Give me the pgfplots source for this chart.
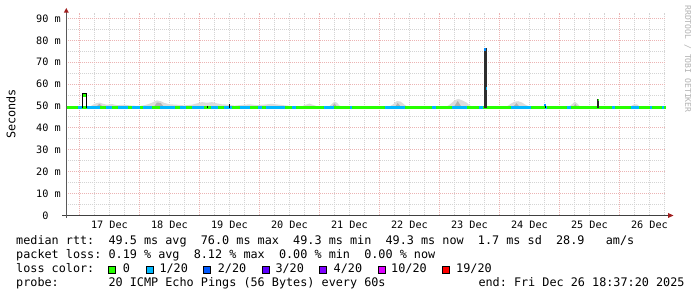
\documentclass[border=0pt]{standalone}
\usepackage{fontspec}
\setmainfont{DejaVu Sans Mono}
\setmonofont{DejaVu Sans Mono}
\usepackage{pgfplots}
\pgfplotsset{compat=1.18}
\definecolor{loss0}{HTML}{26FF00}
\definecolor{loss1}{HTML}{00B8FF}
\definecolor{loss2}{HTML}{0059FF}
\definecolor{loss3}{HTML}{5E00FF}
\definecolor{loss4}{HTML}{7E00FF}
\definecolor{loss10}{HTML}{DD00FF}
\definecolor{loss19}{HTML}{FF0000}
\definecolor{mgrid}{RGB}{236,180,180}
\definecolor{mingrid}{RGB}{212,212,212}
\definecolor{smokeL}{RGB}{220,220,220}
\definecolor{smokeD}{RGB}{178,178,178}
\definecolor{arrowc}{RGB}{160,30,30}
\newcommand{\legfont}{\frenchspacing\ttfamily\fontsize{11.8}{14}\selectfont}
\begin{document}
\begin{tikzpicture}[x=1pt,y=1pt]
\useasboundingbox (0,0) rectangle (697,297);
\fill[white] (0,0) rectangle (697,297);
\begin{axis}[
  at={(66pt,81.5pt)}, anchor=south west,
  scale only axis, width=600pt, height=202.5pt,
  xmin=-5.38, xmax=234.62, ymin=0, ymax=92.5,
  axis line style={draw=none},
  major tick length=0pt, minor tick length=0pt,
  xtick={0,24,...,216}, xticklabels={},
  minor xtick={6,12,18,30,36,42,54,60,66,78,84,90,102,108,114,126,132,138,150,156,162,174,180,186,198,204,210,222,228,234},
  extra x ticks={12,36,60,84,108,132,156,180,204,228},
  extra x tick labels={17 Dec,18 Dec,19 Dec,20 Dec,21 Dec,22 Dec,23 Dec,24 Dec,25 Dec,26 Dec},
  extra x tick style={grid=none, major tick length=0pt},
  ytick={0,10,...,90},
  yticklabels={0\phantom{xx},10 m,20 m,30 m,40 m,50 m,60 m,70 m,80 m,90 m},
  minor ytick={5,15,...,85},
  grid=both,
  major grid style={draw=mgrid, line width=1pt, dash pattern=on 1pt off 1pt},
  minor grid style={draw=mingrid, line width=1pt, dash pattern=on 1pt off 1pt},
  tick label style={font=\frenchspacing\ttfamily\fontsize{10.2}{12}\selectfont, text=black},
  yticklabel style={anchor=east, inner sep=0pt, xshift=-5pt},
  xticklabel style={anchor=base, inner sep=0pt, yshift=-13pt},
]
% smoke (light)
\addplot[fill=smokeL, draw=none] coordinates {
(-5.38,49)(4,49)(5,50.4)(6.5,51.2)(8,51.6)(9.5,51.0)(11,50.6)(13,50.9)(15,50.4)(18,50.6)(21,50.2)(24,50.0)(26,50.4)(28,51.0)(29.5,51.8)(31,52.6)(32.5,52.2)(34,51.4)(36,50.8)(39,50.6)(42,50.3)(45,50.6)(47,51.2)(49,51.8)(51,51.5)(53,51.8)(55,51.2)(57,50.8)(60,50.6)(62,50.2)(65,50.5)(68,50.8)(71,50.4)(74,50.7)(77,51.0)(80,50.6)(83,50.2)(86,49.8)(89,49.9)(90.5,50.6)(92,51.1)(93.5,50.5)(95,49.9)(100,49.9)(101,51.0)(102,52.0)(103,51.5)(104,50.2)(105,49.8)(124,49.8)(125.5,50.8)(127,52.3)(128.5,52.0)(130,50.6)(131,49.8)(147,49.8)(148.5,51.0)(150,52.5)(151.5,53.3)(153,52.6)(155,51.5)(156,50.3)(157,49.8)(171,49.8)(172.5,51.0)(174,52.0)(175.5,52.2)(177,51.6)(178.5,50.5)(180,49.8)(196,49.8)(197.2,51.0)(198.2,52.0)(199.2,51.0)(200.2,49.8)(220.5,49.8)(221.5,50.6)(223,50.8)(224,49.8)(234.62,49.8)(234.62,49)} -- cycle;
% smoke (dark cores)
\addplot[fill=smokeD, draw=none] coordinates {(30,50)(31,51.6)(32.5,51.4)(33.5,50)} -- cycle;
\addplot[fill=smokeD, draw=none] coordinates {(7,50)(8,51)(9,50)} -- cycle;
\addplot[fill=smokeD, draw=none] coordinates {(101.3,50)(102,51.2)(102.8,50)} -- cycle;
\addplot[fill=smokeD, draw=none] coordinates {(126.5,50)(127.3,51.4)(128.3,50)} -- cycle;
\addplot[fill=smokeD, draw=none] coordinates {(150,50)(151.3,52.3)(152.6,50)} -- cycle;
\addplot[fill=smokeD, draw=none] coordinates {(173.8,50)(174.8,51.3)(175.8,50)} -- cycle;
\addplot[fill=smokeD, draw=none] coordinates {(197.8,50)(198.3,51)(198.9,50)} -- cycle;
% median line, 0 loss
\addplot[loss0, line width=3pt, line cap=butt] coordinates {(-5.38,49.3)(234.62,49.3)};
% median line, 1/20 loss
\addplot[loss1, line width=3pt, line cap=butt, unbounded coords=jump] coordinates {
(-0.6,49.3)(1.0,49.3)(1.0,nan)
(3.0,49.3)(8.2,49.3)(8.2,nan)
(10.6,49.3)(13.0,49.3)(13.0,nan)
(15.4,49.3)(19.4,49.3)(19.4,nan)
(21.0,49.3)(24.2,49.3)(24.2,nan)
(25.4,49.3)(29.0,49.3)(29.0,nan)
(32.2,49.3)(38.2,49.3)(38.2,nan)
(40.2,49.3)(42.6,49.3)(42.6,nan)
(45.0,49.3)(49.8,49.3)(49.8,nan)
(52.6,49.3)(55.4,49.3)(55.4,nan)
(57.8,49.3)(61.0,49.3)(61.0,nan)
(64.2,49.3)(68.2,49.3)(68.2,nan)
(71.4,49.3)(73.0,49.3)(73.0,nan)
(74.6,49.3)(82.2,49.3)(82.2,nan)
(85.0,49.3)(86.6,49.3)(86.6,nan)
(97.8,49.3)(101.8,49.3)(101.8,nan)
(108.2,49.3)(109.0,49.3)(109.0,nan)
(122.2,49.3)(130.2,49.3)(130.2,nan)
(141.0,49.3)(142.6,49.3)(142.6,nan)
(149.0,49.3)(155.0,49.3)(155.0,nan)
(159.8,49.3)(161.4,49.3)(161.4,nan)
(172.6,49.3)(180.6,49.3)(180.6,nan)
(186.2,49.3)(187.0,49.3)(187.0,nan)
(195.0,49.3)(196.6,49.3)(196.6,nan)
(213.0,49.3)(214.2,49.3)(214.2,nan)
(220.6,49.3)(223.8,49.3)(223.8,nan)
(228.2,49.3)(229.0,49.3)(229.0,nan)
(233.0,49.3)(233.8,49.3)};
% spike 17 Dec
\addplot[black, line width=1pt] coordinates {(1.4,49.3)(1.4,55.6)(3.0,55.6)(3.0,49.3)};
\addplot[loss0, line width=3pt, line cap=butt] coordinates {(1.6,55.0)(2.8,55.0)};
% small marks
\addplot[black, line width=1pt] coordinates {(51.4,49.0)(51.4,50.0)};
\addplot[black, line width=1pt] coordinates {(60.2,48.9)(60.2,50.8)};
% big spike 23 Dec
\addplot[fill=black!82, draw=none] coordinates {(161.8,49)(161.8,76.3)(163.0,76.3)(163.0,49)} -- cycle;
\addplot[fill=loss1!55!loss2, draw=none] coordinates {(161.8,75.3)(161.8,76.4)(162.6,76.4)(162.6,75.3)} -- cycle;
\addplot[fill=loss1, draw=none] coordinates {(162.7,57.3)(162.7,58.7)(163.2,58.7)(163.2,57.3)} -- cycle;
% small 24 Dec
\addplot[black, line width=1pt] coordinates {(186.6,49.3)(186.6,51.0)};
\addplot[fill=loss1!60!loss2, draw=none] coordinates {(186.0,50.2)(186.0,51.1)(186.5,51.1)(186.5,50.2)} -- cycle;
% spike 25 Dec
\addplot[fill=black!85, draw=none] coordinates {(206.9,49)(206.9,53.4)(207.7,53.4)(207.7,49)} -- cycle;
\addplot[fill=loss0, draw=none] coordinates {(207.3,52.2)(207.3,53.4)(207.7,53.4)(207.7,52.2)} -- cycle;
\end{axis}
% axes
\draw[black!75, line width=1pt] (62,81.5) -- (668,81.5);
\fill[arrowc] (668,79) -- (673.5,81.5) -- (668,84) -- cycle;
\draw[black!65, line width=1pt] (66.3,79) -- (66.3,284.5);
\fill[arrowc] (63.8,284.3) -- (66.3,289) -- (68.8,284.3) -- cycle;
% labels
\node[rotate=90, anchor=base, inner sep=0pt, font=\legfont] at (15.5,183) {Seconds};
\node[rotate=-90, anchor=base, inner sep=0pt, text=black!30, font=\frenchspacing\ttfamily\fontsize{8.1}{10}\selectfont] at (685,238) {RRDTOOL / TOBI OETIKER};
% legend
\node[anchor=base west, inner sep=0pt, font=\legfont] at (16,52) {median rtt:~~49.5 ms avg~~76.0 ms max~~49.3 ms min~~49.3 ms now~~1.7 ms sd~~28.9~~~am/s};
\node[anchor=base west, inner sep=0pt, font=\legfont] at (16,38) {packet loss: 0.19 \% avg~~8.12 \% max~~0.00 \% min~~0.00 \% now};
\node[anchor=base west, inner sep=0pt, font=\legfont] at (16,24.3) {loss color:};
\draw[fill=loss0, line width=0.8pt] (108.7,23.5) rectangle (115.7,30.7);
\node[anchor=base west, inner sep=0pt, font=\legfont] at (122.6,24.3) {0};
\draw[fill=loss1, line width=0.8pt] (146.1,23.5) rectangle (153.1,30.7);
\node[anchor=base west, inner sep=0pt, font=\legfont] at (159.3,24.3) {1/20};
\draw[fill=loss2, line width=0.8pt] (203.7,23.5) rectangle (210.7,30.7);
\node[anchor=base west, inner sep=0pt, font=\legfont] at (217.6,24.3) {2/20};
\draw[fill=loss3, line width=0.8pt] (262.1,23.5) rectangle (269.1,30.7);
\node[anchor=base west, inner sep=0pt, font=\legfont] at (275.3,24.3) {3/20};
\draw[fill=loss4, line width=0.8pt] (319.7,23.5) rectangle (326.7,30.7);
\node[anchor=base west, inner sep=0pt, font=\legfont] at (333.5,24.3) {4/20};
\draw[fill=loss10, line width=0.8pt] (378.1,23.5) rectangle (385.1,30.7);
\node[anchor=base west, inner sep=0pt, font=\legfont] at (391,24.3) {10/20};
\draw[fill=loss19, line width=0.8pt] (442.7,23.5) rectangle (449.7,30.7);
\node[anchor=base west, inner sep=0pt, font=\legfont] at (456,24.3) {19/20};
\node[anchor=base west, inner sep=0pt, font=\legfont] at (16,10.5) {probe:~~~~~~~20 ICMP Echo Pings (56 Bytes) every 60s};
\node[anchor=base west, inner sep=0pt, font=\legfont] at (478.3,10.5) {end: Fri Dec 26 18:37:20 2025};
\end{tikzpicture}
\end{document}
